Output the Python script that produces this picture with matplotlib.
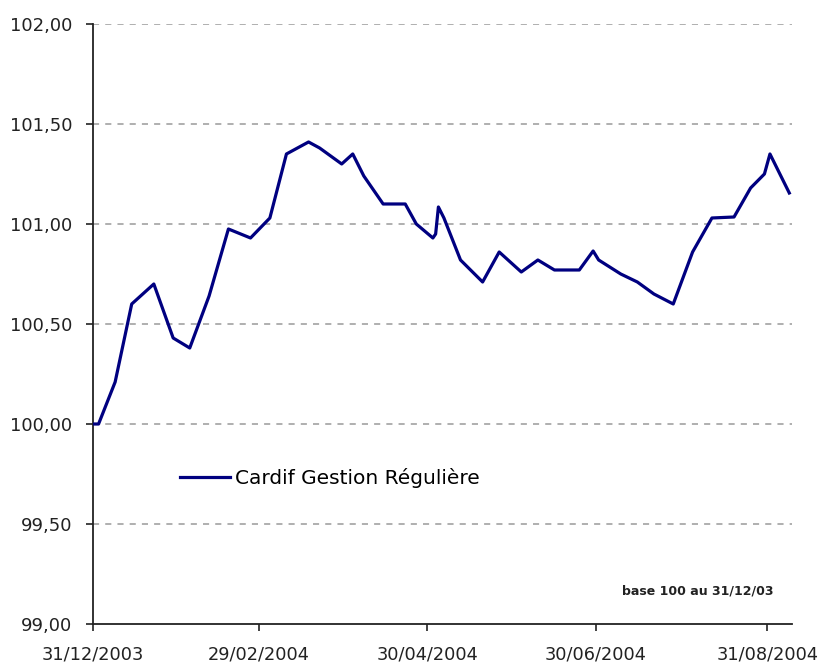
"""
Cardif Gestion Régulière – performance base 100 au 31/12/03
"""

import pandas as pd
import matplotlib
matplotlib.use("Agg")
import matplotlib.pyplot as plt
import matplotlib.dates as mdates
from matplotlib.ticker import FuncFormatter

# ── Data ─────────────────────────────────────────────────
dates = [
    "2003-12-31", "2004-01-02", "2004-01-08", "2004-01-14", "2004-01-18",
    "2004-01-22", "2004-01-29", "2004-02-04", "2004-02-11", "2004-02-18",
    "2004-02-26", "2004-03-04", "2004-03-10", "2004-03-18", "2004-03-22",
    "2004-03-30", "2004-04-03", "2004-04-07", "2004-04-14", "2004-04-22",
    "2004-04-26", "2004-05-02", "2004-05-03", "2004-05-04", "2004-05-06",
    "2004-05-12", "2004-05-20", "2004-05-26", "2004-06-03", "2004-06-09",
    "2004-06-15", "2004-06-24", "2004-06-29", "2004-07-01", "2004-07-09",
    "2004-07-15", "2004-07-21", "2004-07-28", "2004-08-04", "2004-08-11",
    "2004-08-19", "2004-08-25", "2004-08-30", "2004-09-01", "2004-09-08",
]
values = [
    100.00, 100.00, 100.21, 100.60, 100.65,
    100.70, 100.43, 100.38, 100.64, 100.975,
    100.93, 101.03, 101.35, 101.41, 101.38,
    101.30, 101.35, 101.24, 101.10, 101.10,
    101.00, 100.93, 100.95, 101.085, 101.03,
    100.82, 100.71, 100.86, 100.76, 100.82,
    100.77, 100.77, 100.865, 100.82, 100.75,
    100.71, 100.65, 100.60, 100.86, 101.03,
    101.035, 101.18, 101.25, 101.35, 101.155,
]
series_name = "Cardif Gestion Régulière"
note = "base 100 au 31/12/03"

x_ticks = ["2003-12-31", "2004-02-29", "2004-04-30", "2004-06-30", "2004-08-31"]
x_range = ["2003-12-31", "2004-09-09"]
y_ticks = [99.0, 99.5, 100.0, 100.5, 101.0, 101.5, 102.0]

df = pd.DataFrame({"date": pd.to_datetime(dates), "value": values})

# ── Figure ──────────────────────────────────────────────
plt.rcParams["font.family"] = "DejaVu Sans"
fig = plt.figure(figsize=(8.19, 6.64), dpi=100)
ax = fig.add_axes([0.1136, 0.0602, 0.8535, 0.9037])

for y in y_ticks[1:]:
    ax.axhline(y, color="#9a9a9a", linewidth=1.1, linestyle=(0, (4, 4)), zorder=1)

ax.plot(df["date"], df["value"], color="#000080", linewidth=2.3,
        label=series_name, zorder=3)

ax.set_xlim(pd.to_datetime(x_range[0]), pd.to_datetime(x_range[1]))
ax.set_ylim(y_ticks[0], y_ticks[-1])
ax.set_yticks(y_ticks)
ax.yaxis.set_major_formatter(FuncFormatter(lambda v, p: f"{v:.2f}".replace(".", ",")))
ax.set_xticks(pd.to_datetime(x_ticks))
ax.xaxis.set_major_formatter(mdates.DateFormatter("%d/%m/%Y"))

for s in ["top", "right"]:
    ax.spines[s].set_visible(False)
for s in ["left", "bottom"]:
    ax.spines[s].set_color("#222222")
    ax.spines[s].set_linewidth(1.3)

ax.tick_params(axis="both", labelsize=13, colors="#222222", length=5, width=1.2)
ax.tick_params(axis="y", pad=10)
ax.tick_params(axis="x", pad=10.5, labelsize=12.8)

leg = ax.legend(loc="center left", bbox_to_anchor=(0.124, 0.244), frameon=False,
                fontsize=14.5, handlelength=2.5, handletextpad=0.25,
                borderpad=0, borderaxespad=0)

ax.text(0.865, 0.055, note, transform=ax.transAxes, ha="center", va="center",
        fontsize=9, fontweight="bold", color="#222222")

plt.savefig("out.png", dpi=100)
plt.close()
